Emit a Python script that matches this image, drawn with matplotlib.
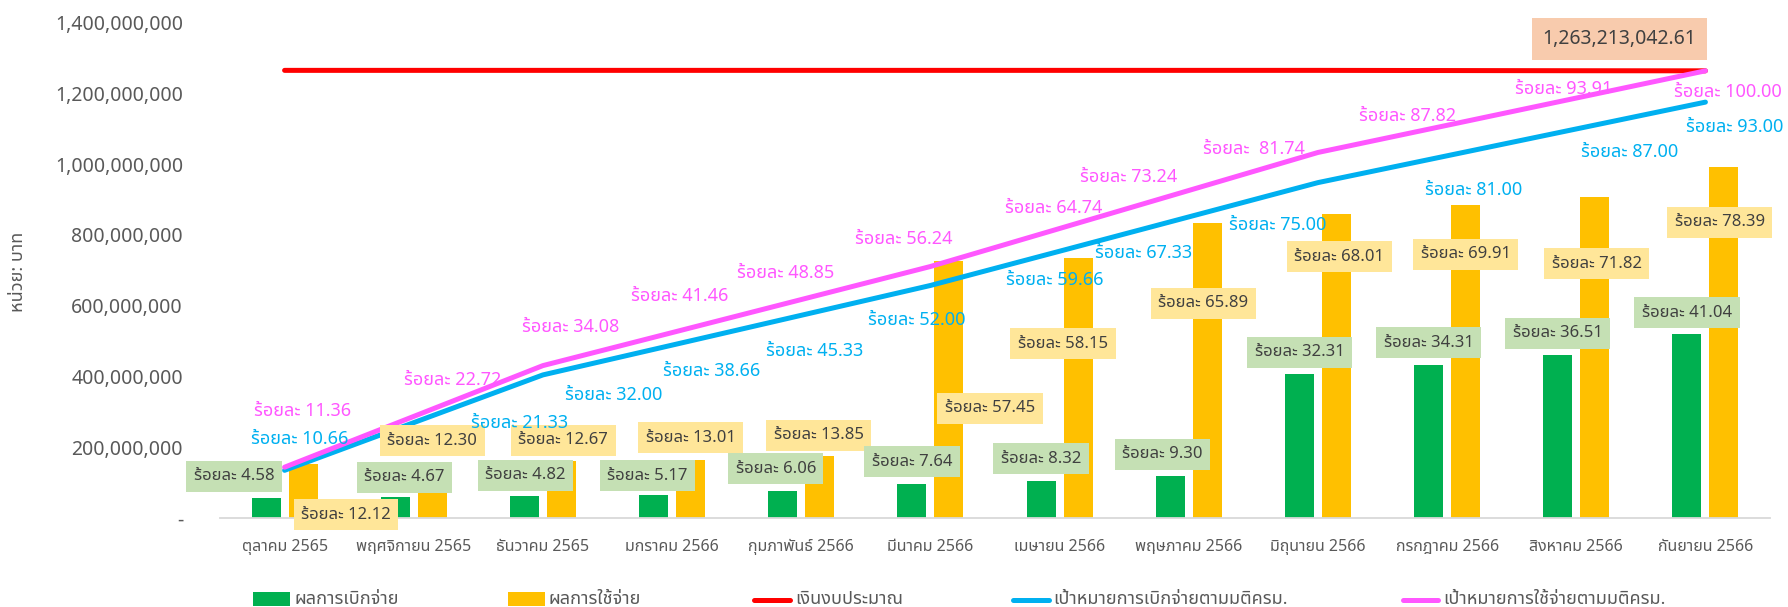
import numpy as np
import matplotlib
matplotlib.use('Agg')
import matplotlib.pyplot as plt
from matplotlib import font_manager
from matplotlib.ft2font import FT2Font
from matplotlib.patches import Rectangle
from matplotlib.lines import Line2D

# ---------------- data ----------------
months = ['ตุลาคม 2565', 'พฤศจิกายน 2565', 'ธันวาคม 2565', 'มกราคม 2566',
          'กุมภาพันธ์ 2566', 'มีนาคม 2566', 'เมษายน 2566', 'พฤษภาคม 2566',
          'มิถุนายน 2566', 'กรกฎาคม 2566', 'สิงหาคม 2566', 'กันยายน 2566']

disburse_pct = [4.58, 4.67, 4.82, 5.17, 6.06, 7.64, 8.32, 9.30, 32.31, 34.31, 36.51, 41.04]
spend_pct = [12.12, 12.30, 12.67, 13.01, 13.85, 57.45, 58.15, 65.89, 68.01, 69.91, 71.82, 78.39]
disburse_target_pct = [10.66, 21.33, 32.00, 38.66, 45.33, 52.00, 59.66, 67.33, 75.00, 81.00, 87.00, 93.00]
spend_target_pct = [11.36, 22.72, 34.08, 41.46, 48.85, 56.24, 64.74, 73.24, 81.74, 87.82, 93.91, 100.00]

disburse_amt = [57_855_000, 58_992_000, 60_887_000, 65_308_000, 76_551_000, 96_509_000,
                105_099_000, 117_479_000, 408_144_000, 433_408_000, 461_199_000, 518_423_000]
spend_amt = [153_101_000, 155_375_000, 160_049_000, 164_344_000, 174_955_000, 725_716_000,
             734_558_000, 832_331_000, 859_111_000, 883_112_000, 907_239_000, 990_233_000]
budget_amt = [1_264_500_000] * 9 + [1_264_000_000, 1_263_500_000, 1_263_213_042.61]
disburse_target_amt = [134_659_000, 269_443_000, 404_228_000, 488_358_000, 572_614_000, 656_871_000,
                       753_633_000, 850_521_000, 947_410_000, 1_023_203_000, 1_098_995_000, 1_174_788_000]
spend_target_amt = [143_501_000, 287_002_000, 430_503_000, 523_728_000, 617_080_000, 710_431_000,
                    817_804_000, 925_177_000, 1_032_550_000, 1_109_354_000, 1_186_283_000, 1_263_213_042.61]

budget_label = '1,263,213,042.61'
series_names = ['ผลการเบิกจ่าย', 'ผลการใช้จ่าย', 'เงินงบประมาณ',
                'เป้าหมายการเบิกจ่ายตามมติครม.', 'เป้าหมายการใช้จ่ายตามมติครม.']
y_title = 'หน่วย: บาท'
yticks = [0, 200_000_000, 400_000_000, 600_000_000, 800_000_000,
          1_000_000_000, 1_200_000_000, 1_400_000_000]

# ---------------- fonts ----------------
def find_thai():
    pref = ['Noto Sans Thai', 'Noto Sans Thai UI', 'Leelawadee UI', 'Tahoma', 'Loma',
            'Garuda', 'Sarabun', 'Waree', 'Kinnari', 'Norasi', 'Umpush', 'Tlwg Typo']
    found = {}
    for f in font_manager.fontManager.ttflist:
        if f.name in found:
            continue
        try:
            cm = FT2Font(f.fname).get_charmap()
        except Exception:
            continue
        if 0x0E23 in cm and 0x0E2D in cm:
            found[f.name] = f.fname
    for p in pref:
        if p in found:
            return p
    return next(iter(found), None)

thai = find_thai()
FAM = ['Noto Sans', thai] if thai else ['Noto Sans', 'DejaVu Sans']
plt.rcParams['font.family'] = FAM

# ---------------- styles ----------------
DPI = 100
W, H = 1788, 607
GREEN, ORANGE = '#00B050', '#FFC000'
RED, BLUE, PINK = '#FF0000', '#00B0F0', '#FF57FF'
GREEN_BOX, ORANGE_BOX, BUDGET_BOX = '#C5E0B4', '#FFE699', '#F8CBAD'
GREY_TXT, DARK_TXT = '#595959', '#404040'

def px2pt(v):
    return v * 72.0 / DPI

# label offsets (pixels, image direction: +x right, +y down) relative to the point
green_off = [(-32, -21.5), (9, -20), (1, -21), (-6, -19), (-7, -22), (0, -22),
             (0, -22), (-8, -22), (0, -21.5), (0, -21.6), (0, -21.7), (0, -21.5)]
orange_off = [(43, 51), (0, -22), (2, -21), (0, -22), (-1, -21), (41, 147),
              (-15, 86), (-4, 80), (3, 43), (0, 49), (2, 67), (-4, 55)]
blue_off = [(15, -31), (106, 0), (71, 20), (40, 26), (13, 36), (-14, 35),
            (-5, 29), (-45, 36), (-40, 42), (27, 34), (53, 23), (29, 25)]
pink_off = [(18, -56), (39, -36), (28, -39), (8, -37), (-16, -27), (-27, -28),
            (-6, -20), (-60, -13), (-64, -3), (-40, -9), (-13, -9), (22, 21)]

fig = plt.figure(figsize=(W / DPI, H / DPI), dpi=DPI)
ax = fig.add_axes([220 / W, 89 / H, 1550 / W, 495.6 / H])

x = np.arange(len(months))
bw, boff = 0.224, 0.143
ax.bar(x - boff, disburse_amt, width=bw, color=GREEN, zorder=2)
ax.bar(x + boff, spend_amt, width=bw, color=ORANGE, zorder=2)
lw = px2pt(5)
ax.plot(x, budget_amt, color=RED, lw=lw, solid_capstyle='round', solid_joinstyle='round', zorder=3)
ax.plot(x, disburse_target_amt, color=BLUE, lw=lw, solid_capstyle='round', solid_joinstyle='round', zorder=3)
ax.plot(x, spend_target_amt, color=PINK, lw=lw, solid_capstyle='round', solid_joinstyle='round', zorder=3)

ax.set_xlim(-0.5, len(months) - 0.5)
ax.set_ylim(0, 1_400_000_000)
for s in ['top', 'right', 'left']:
    ax.spines[s].set_visible(False)
ax.spines['bottom'].set_color('#D9D9D9')
ax.spines['bottom'].set_linewidth(1.3)
ax.set_yticks(yticks)
ax.set_yticklabels(['-' if v == 0 else f'{v:,.0f}' for v in yticks])
ax.tick_params(axis='y', length=0, pad=px2pt(37), labelsize=14, labelcolor=GREY_TXT)
ax.set_xticks(x)
ax.set_xticklabels(months, va='center')
ax.tick_params(axis='x', length=0, pad=px2pt(29), labelsize=11.5, labelcolor=GREY_TXT)

fig.text(18 / W, 1 - 272 / H, y_title, rotation=90, ha='center', va='center',
         fontsize=13, color=GREY_TXT)

def lab(txt, xy, off, size, color, box=None, z=5):
    kw = {}
    if box:
        kw['bbox'] = dict(boxstyle='square,pad=0.45', fc=box, ec='none')
    ax.annotate(txt, xy=xy, xytext=(px2pt(off[0]), -px2pt(off[1])),
                textcoords='offset points', ha='center', va='center',
                fontsize=size, color=color, zorder=z, annotation_clip=False, **kw)

for i in range(len(months)):
    lab(f'ร้อยละ {disburse_pct[i]:.2f}', (x[i] - boff, disburse_amt[i]), green_off[i], 12, DARK_TXT, GREEN_BOX, 5)
    lab(f'ร้อยละ {spend_pct[i]:.2f}', (x[i] + boff, spend_amt[i]), orange_off[i], 12, DARK_TXT, ORANGE_BOX, 5)
    lab(f'ร้อยละ {disburse_target_pct[i]:.2f}', (x[i], disburse_target_amt[i]), blue_off[i], 13, BLUE, None, 6)
    sp = '  ' if i == 8 else ' '
    lab(f'ร้อยละ{sp}{spend_target_pct[i]:.2f}', (x[i], spend_target_amt[i]), pink_off[i], 13, PINK, None, 6)

# budget label at last point
ax.annotate(budget_label, xy=(x[-1], budget_amt[-1]), xytext=(px2pt(-86), px2pt(32)),
            textcoords='offset points', ha='center', va='center', fontsize=14, color=DARK_TXT,
            bbox=dict(boxstyle='square,pad=0.55', fc=BUDGET_BOX, ec='none'), zorder=7)

# legend (manual, figure coordinates)
ly = 1 - 599 / H
def ftext(xp, s):
    fig.text(xp / W, ly, s, ha='left', va='center', fontsize=13, color=GREY_TXT)
fig.patches.append(Rectangle((253 / W, 1 - 606 / H), 37 / W, 14 / H, transform=fig.transFigure,
                             facecolor=GREEN, edgecolor='none'))
ftext(294, series_names[0])
fig.patches.append(Rectangle((508 / W, 1 - 606 / H), 37 / W, 14 / H, transform=fig.transFigure,
                             facecolor=ORANGE, edgecolor='none'))
ftext(548, series_names[1])
for (x0, x1, c, tx, name) in [(754, 790, RED, 795, series_names[2]),
                              (1013, 1049, BLUE, 1053, series_names[3]),
                              (1403, 1438, PINK, 1443, series_names[4])]:
    fig.lines.append(Line2D([x0 / W, x1 / W], [1 - 600 / H, 1 - 600 / H], transform=fig.transFigure,
                            color=c, lw=lw, solid_capstyle='round'))
    ftext(tx, name)

fig.savefig('out.png', dpi=DPI)
